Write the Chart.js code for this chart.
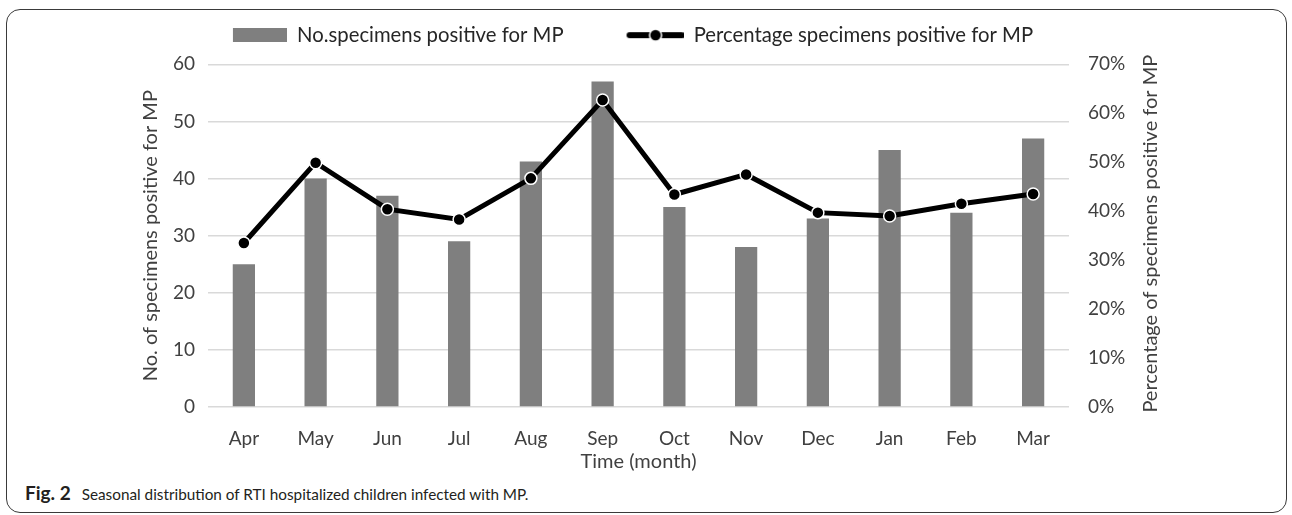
<!DOCTYPE html>
<html>
<head>
<meta charset="utf-8">
<script src="https://cdn.jsdelivr.net/npm/chart.js@4.4.0/dist/chart.umd.min.js"></script>
<style>
  body { margin: 0; background: #fff; width: 1292px; height: 515px; overflow: hidden; position: relative; font-family: Lato, sans-serif; }
  #frame { position: absolute; left: 6px; top: 9px; width: 1279px; height: 502px; border: 1.5px solid #3a3a3a; border-radius: 14px; }
  #wrap { position: absolute; left: 0; top: 0; width: 1292px; height: 480px; }
  #caption { position: absolute; left: 25px; top: 481px; font-size: 15.3px; color: #231f20; white-space: nowrap; }
  #caption b { font-size: 19px; margin-right: 7px; }
</style>
</head>
<body>
<div id="frame"></div>
<div id="wrap"><canvas id="myChart"></canvas></div>
<div id="caption"><b>Fig. 2</b> Seasonal distribution of RTI hospitalized children infected with MP.</div>
<script>
var months = ['Apr', 'May', 'Jun', 'Jul', 'Aug', 'Sep', 'Oct', 'Nov', 'Dec', 'Jan', 'Feb', 'Mar'];
var positiveCounts = [25, 40, 37, 29, 43, 57, 35, 28, 33, 45, 34, 47];
var positivePercent = [33.5, 49.9, 40.4, 38.3, 46.7, 62.7, 43.4, 47.5, 39.7, 39.0, 41.5, 43.5];
var barLabel = 'No.specimens positive for MP';
var lineLabel = 'Percentage specimens positive for MP';
var leftTitle = 'No. of specimens positive for MP';
var rightTitle = 'Percentage of specimens positive for MP';
var xTitle = 'Time (month)';

var tickFont = { family: 'Lato', size: 19 };
var titleFont = { family: 'Lato', size: 20 };
var textColor = '#404040';

// legend icons: transparent gap on the left so items sit apart like the original
function barIcon() {
    var c = document.createElement('canvas');
    c.width = 110; c.height = 14;
    var g = c.getContext('2d');
    g.fillStyle = '#7f7f7f';
    g.fillRect(56, 0, 54, 14);
    return c;
}
function lineIcon() {
    var c = document.createElement('canvas');
    c.width = 110; c.height = 16;
    var g = c.getContext('2d');
    g.strokeStyle = '#000';
    g.lineWidth = 6;
    g.lineCap = 'round';
    g.beginPath(); g.moveTo(56, 8); g.lineTo(108, 8); g.stroke();
    g.beginPath(); g.arc(82, 8, 6, 0, 2 * Math.PI);
    g.fillStyle = '#000'; g.fill();
    g.strokeStyle = '#fff'; g.lineWidth = 1.5; g.stroke();
    return c;
}

var legendMargin = {
    id: 'legendMargin',
    beforeInit: function(chart) {
        var fit = chart.legend.fit;
        chart.legend.fit = function() {
            fit.bind(chart.legend)();
            this.height += 9;
        };
    }
};

var rightTitlePlugin = {
    id: 'rightTitle',
    afterDraw: function(chart) {
        var ctx = chart.ctx;
        var area = chart.chartArea;
        ctx.save();
        ctx.translate(chart.scales.y1.left + 82, (area.top + area.bottom) / 2 - 2);
        ctx.rotate(-Math.PI / 2);
        ctx.textAlign = 'center';
        ctx.textBaseline = 'middle';
        ctx.fillStyle = textColor;
        ctx.font = '20px Lato';
        ctx.fillText(rightTitle, 0, 0);
        ctx.restore();
    }
};

var ctx = document.getElementById('myChart').getContext('2d');

var data = {
    labels: months,
    datasets: [{
        type: 'bar',
        label: barLabel,
        data: positiveCounts,
        backgroundColor: '#7f7f7f',
        yAxisID: 'y',
        barPercentage: 0.31,
        categoryPercentage: 1,
        order: 1
    }, {
        type: 'line',
        label: lineLabel,
        data: positivePercent,
        borderColor: '#000',
        borderWidth: 5,
        pointRadius: 6,
        pointBackgroundColor: '#000',
        pointBorderColor: '#fff',
        pointBorderWidth: 1.5,
        tension: 0,
        yAxisID: 'y1',
        order: 0
    }]
};

var options = {
    responsive: true,
    maintainAspectRatio: false,
    animation: false,
    layout: {
        padding: { left: 24, right: 106, top: 15, bottom: 3 }
    },
    plugins: {
        tooltip: { enabled: false },
        legend: {
            display: true,
            position: 'top',
            labels: {
                usePointStyle: true,
                pointStyleWidth: 110,
                padding: 10,
                color: '#262626',
                font: { family: 'Lato', size: 20.3 },
                generateLabels: function() {
                    return [
                        { text: barLabel, pointStyle: barIcon(), fillStyle: '#7f7f7f', strokeStyle: 'transparent', lineWidth: 0, hidden: false, datasetIndex: 0, fontColor: '#262626' },
                        { text: lineLabel, pointStyle: lineIcon(), fillStyle: '#000', strokeStyle: 'transparent', lineWidth: 0, hidden: false, datasetIndex: 1, fontColor: '#262626' }
                    ];
                }
            }
        }
    },
    scales: {
        x: {
            grid: { display: false, drawTicks: false },
            border: { display: false },
            ticks: { color: textColor, font: tickFont, padding: 20 },
            title: { display: true, text: xTitle, color: textColor, font: titleFont, padding: { top: 0, bottom: 3 } },
            afterFit: function(scale) { scale.height = 70; }
        },
        y: {
            position: 'left',
            min: 0,
            max: 60,
            ticks: { stepSize: 10, color: textColor, font: tickFont, padding: 13 },
            grid: { color: '#d9d9d9', lineWidth: 1.5, drawTicks: false },
            border: { display: false },
            title: { display: true, text: leftTitle, color: textColor, font: titleFont, padding: { top: 115, bottom: 0 } },
            afterFit: function(scale) { scale.width = 184; }
        },
        y1: {
            position: 'right',
            min: 0,
            max: 70,
            ticks: { stepSize: 10, color: textColor, font: tickFont, padding: 19, callback: function(v) { return v + '%'; } },
            grid: { drawOnChartArea: false, drawTicks: false },
            border: { display: false },
            afterFit: function(scale) { scale.width = 117; }
        }
    }
};

var myChart = new Chart(ctx, {
    data: data,
    options: options,
    plugins: [legendMargin, rightTitlePlugin]
});
</script>
</body>
</html>
